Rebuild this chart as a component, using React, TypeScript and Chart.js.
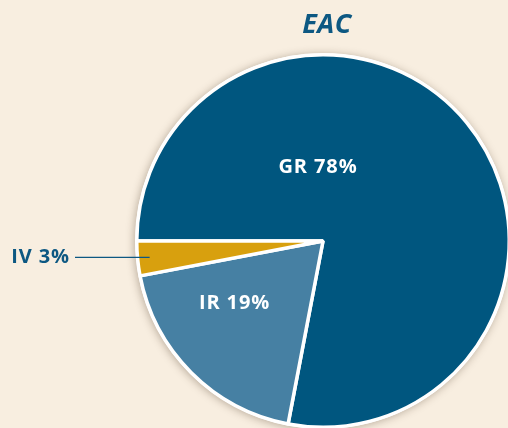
import React, { useEffect, useRef } from "react";
import { Chart, registerables } from "chart.js";

Chart.register(...registerables);

const title = "EAC";
const categories = ["GR", "IR", "IV"];
const values = [78, 19, 3];
const colors = ["#00567f", "#4680a3", "#d8a00e"];

const BG = "#f8eee0";
const TEXT = "#0d5882";
const FONT = "'Open Sans', sans-serif";

export default function App() {
  const ref = useRef<HTMLCanvasElement | null>(null);

  useEffect(() => {
    if (!ref.current) return;

    const shadowPlugin = {
      id: "pieShadow",
      beforeDatasetsDraw(chart: any) {
        const meta = chart.getDatasetMeta(0);
        const a = meta.data[0];
        if (!a) return;
        const ctx = chart.ctx;
        ctx.save();
        ctx.shadowColor = "rgba(60,40,20,0.35)";
        ctx.shadowBlur = 8;
        ctx.shadowOffsetX = -1;
        ctx.shadowOffsetY = 1;
        ctx.fillStyle = "#ffffff";
        ctx.beginPath();
        ctx.arc(a.x, a.y, a.outerRadius + 1.5, 0, Math.PI * 2);
        ctx.fill();
        ctx.restore();
      },
    };

    const labelPlugin = {
      id: "pieLabels",
      afterDatasetsDraw(chart: any) {
        const meta = chart.getDatasetMeta(0);
        const arcs = meta.data;
        if (!arcs.length) return;
        const cx = arcs[0].x;
        const cy = arcs[0].y;
        const r = arcs[0].outerRadius;
        const ctx = chart.ctx;
        ctx.save();
        (ctx as any).letterSpacing = "0.9px";
        ctx.font = `bold 20px ${FONT}`;
        ctx.textAlign = "center";
        ctx.textBaseline = "alphabetic";
        const lbl = (i: number) => `${categories[i]} ${values[i]}%`;
        // GR
        ctx.fillStyle = "#ffffff";
        ctx.fillText(lbl(0), cx - 0.027 * r, cy - 0.365 * r);
        // IR
        ctx.fillText(lbl(1), cx - 0.475 * r, cy + 0.363 * r);
        // IV with leader line
        const a = arcs[2];
        const mid = (a.startAngle + a.endAngle) / 2;
        const ex = cx + Math.cos(mid) * r * 0.935;
        const ey = cy + Math.sin(mid) * r * 0.935;
        ctx.strokeStyle = TEXT;
        ctx.lineWidth = 1.2;
        ctx.beginPath();
        ctx.moveTo(75, ey);
        ctx.lineTo(ex, ey);
        ctx.stroke();
        ctx.fillStyle = TEXT;
        ctx.textAlign = "right";
        ctx.fillText(lbl(2), 70, ey + 6);
        // title
        (ctx as any).letterSpacing = "0.5px";
        ctx.font = `italic bold 27px ${FONT}`;
        ctx.textAlign = "center";
        ctx.fillText(title, cx + 4, 33);
        ctx.restore();
      },
    };

    const chart = new Chart(ref.current, {
      type: "pie",
      data: {
        labels: categories,
        datasets: [
          {
            data: values,
            backgroundColor: colors,
            borderColor: "#ffffff",
            borderWidth: 3.5,
          },
        ],
      },
      options: {
        animation: false,
        responsive: false,
        rotation: 270,
        layout: { padding: { left: 106, right: 0, top: 53, bottom: 41 } },
        plugins: {
          legend: { display: false },
          tooltip: { enabled: false },
          title: { display: false },
        },
      },
      plugins: [shadowPlugin, labelPlugin],
    });
    return () => chart.destroy();
  }, []);

  return (
    <div
      style={{
        position: "fixed",
        left: 0,
        top: 0,
        width: 508,
        height: 428,
        overflow: "hidden",
        background: BG,
      }}
    >
      <canvas ref={ref} width={540} height={470} style={{ display: "block" }} />
    </div>
  );
}
